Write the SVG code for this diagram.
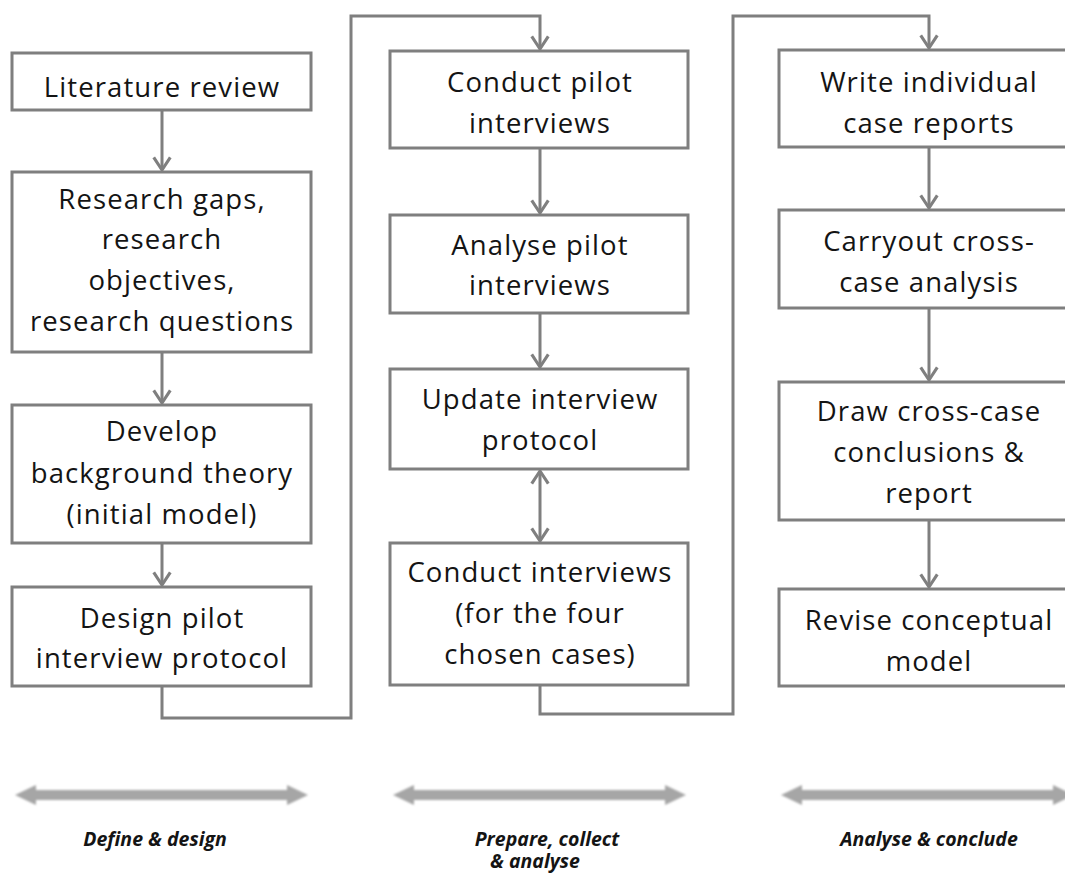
<svg xmlns="http://www.w3.org/2000/svg" width="1065" height="874" viewBox="0 0 1065 874">
  <defs>
    <style>
      .box { fill: #ffffff; stroke: #7f7f7f; stroke-width: 3; }
      .lbl { font-family: "Open Sans", "Liberation Sans", sans-serif; font-size: 27.5px; letter-spacing: 1.1px; fill: #141414; text-anchor: middle; }
      .conn { fill: none; stroke: #7f7f7f; stroke-width: 3; stroke-linejoin: miter; }
      .phase { fill: #a6a6a6; }
      .cap { font-family: "Open Sans", "Liberation Sans", sans-serif; font-size: 19.5px; font-weight: bold; font-style: italic; fill: #141414; text-anchor: middle; }
    </style>
    <marker id="arr" viewBox="0 0 20 20" refX="17" refY="10" markerWidth="6.5" markerHeight="6.5" markerUnits="strokeWidth" orient="auto-start-reverse">
      <path d="M4,1.5 L17,10 L4,18.5" fill="none" stroke="#7f7f7f" stroke-width="3.2" stroke-linejoin="miter"/>
    </marker>
    <filter id="soft" x="-5%" y="-50%" width="110%" height="200%">
      <feGaussianBlur stdDeviation="0.8"/>
    </filter>
  </defs>

  <rect width="1065" height="874" fill="#ffffff"/>

  <!-- connectors -->
  <g id="connectors">
    <!-- column 1 -->
    <path class="conn" d="M162,110 V170" marker-end="url(#arr)"/>
    <path class="conn" d="M162,352 V403" marker-end="url(#arr)"/>
    <path class="conn" d="M162,543 V585" marker-end="url(#arr)"/>
    <!-- column 1 to column 2 -->
    <path class="conn" d="M162,686 V718 H351 V16 H540 V49" marker-end="url(#arr)"/>
    <!-- column 2 -->
    <path class="conn" d="M540,148 V213" marker-end="url(#arr)"/>
    <path class="conn" d="M540,313 V367" marker-end="url(#arr)"/>
    <path class="conn" d="M540,471 V541" marker-start="url(#arr)" marker-end="url(#arr)"/>
    <!-- column 2 to column 3 -->
    <path class="conn" d="M540,685 V714 H733 V16 H929 V48" marker-end="url(#arr)"/>
    <!-- column 3 -->
    <path class="conn" d="M929,147 V208" marker-end="url(#arr)"/>
    <path class="conn" d="M929,308 V380" marker-end="url(#arr)"/>
    <path class="conn" d="M929,520 V587" marker-end="url(#arr)"/>
  </g>

  <!-- column 1: define & design -->
  <g id="literature-review">
    <rect class="box" x="12" y="53" width="299" height="57"/>
    <text class="lbl" x="162" y="97">Literature review</text>
  </g>
  <g id="research-gaps">
    <rect class="box" x="12" y="172" width="299" height="180"/>
    <text class="lbl" x="162" y="209">Research gaps,</text>
    <text class="lbl" x="162" y="249">research</text>
    <text class="lbl" x="162" y="290">objectives,</text>
    <text class="lbl" x="162" y="331">research questions</text>
  </g>
  <g id="background-theory">
    <rect class="box" x="12" y="405" width="299" height="138"/>
    <text class="lbl" x="162" y="441">Develop</text>
    <text class="lbl" x="162" y="483">background theory</text>
    <text class="lbl" x="162" y="524">(initial model)</text>
  </g>
  <g id="design-pilot">
    <rect class="box" x="12" y="587" width="299" height="99"/>
    <text class="lbl" x="162" y="628">Design pilot</text>
    <text class="lbl" x="162" y="668">interview protocol</text>
  </g>

  <!-- column 2: prepare, collect & analyse -->
  <g id="conduct-pilot">
    <rect class="box" x="390" y="51" width="298" height="97"/>
    <text class="lbl" x="540" y="92">Conduct pilot</text>
    <text class="lbl" x="540" y="133">interviews</text>
  </g>
  <g id="analyse-pilot">
    <rect class="box" x="390" y="215" width="298" height="98"/>
    <text class="lbl" x="540" y="255">Analyse pilot</text>
    <text class="lbl" x="540" y="295">interviews</text>
  </g>
  <g id="update-protocol">
    <rect class="box" x="390" y="369" width="298" height="100"/>
    <text class="lbl" x="540" y="409">Update interview</text>
    <text class="lbl" x="540" y="450">protocol</text>
  </g>
  <g id="conduct-interviews">
    <rect class="box" x="390" y="543" width="298" height="142"/>
    <text class="lbl" x="540" y="582">Conduct interviews</text>
    <text class="lbl" x="540" y="623">(for the four</text>
    <text class="lbl" x="540" y="664">chosen cases)</text>
  </g>

  <!-- column 3: analyse & conclude -->
  <g id="case-reports">
    <rect class="box" x="779" y="50" width="300" height="97"/>
    <text class="lbl" x="929" y="92">Write individual</text>
    <text class="lbl" x="929" y="133">case reports</text>
  </g>
  <g id="cross-case-analysis">
    <rect class="box" x="779" y="210" width="300" height="98"/>
    <text class="lbl" x="929" y="251">Carryout cross-</text>
    <text class="lbl" x="929" y="292">case analysis</text>
  </g>
  <g id="cross-case-conclusions">
    <rect class="box" x="779" y="382" width="300" height="138"/>
    <text class="lbl" x="929" y="421">Draw cross-case</text>
    <text class="lbl" x="929" y="462">conclusions &amp;</text>
    <text class="lbl" x="929" y="503">report</text>
  </g>
  <g id="revise-model">
    <rect class="box" x="779" y="589" width="300" height="97"/>
    <text class="lbl" x="929" y="630">Revise conceptual</text>
    <text class="lbl" x="929" y="671">model</text>
  </g>

  <!-- phase spans -->
  <g id="phase-define" filter="url(#soft)">
    <path class="phase" d="M15,795 L36,785 L36,790 L287,790 L287,785 L308,795 L287,805 L287,800 L36,800 L36,805 Z"/>
  </g>
  <g id="phase-prepare" filter="url(#soft)">
    <path class="phase" d="M393,795 L414,785 L414,790 L665,790 L665,785 L686,795 L665,805 L665,800 L414,800 L414,805 Z"/>
  </g>
  <g id="phase-analyse" filter="url(#soft)">
    <path class="phase" d="M781,795 L802,785 L802,790 L1053,790 L1053,785 L1074,795 L1053,805 L1053,800 L802,800 L802,805 Z"/>
  </g>

  <g id="phase-labels">
    <text class="cap" x="155" y="846">Define &amp; design</text>
    <text class="cap"><tspan x="547" y="846">Prepare, collect</tspan><tspan x="535" y="868">&amp; analyse</tspan></text>
    <text class="cap" x="929" y="846">Analyse &amp; conclude</text>
  </g>
</svg>
